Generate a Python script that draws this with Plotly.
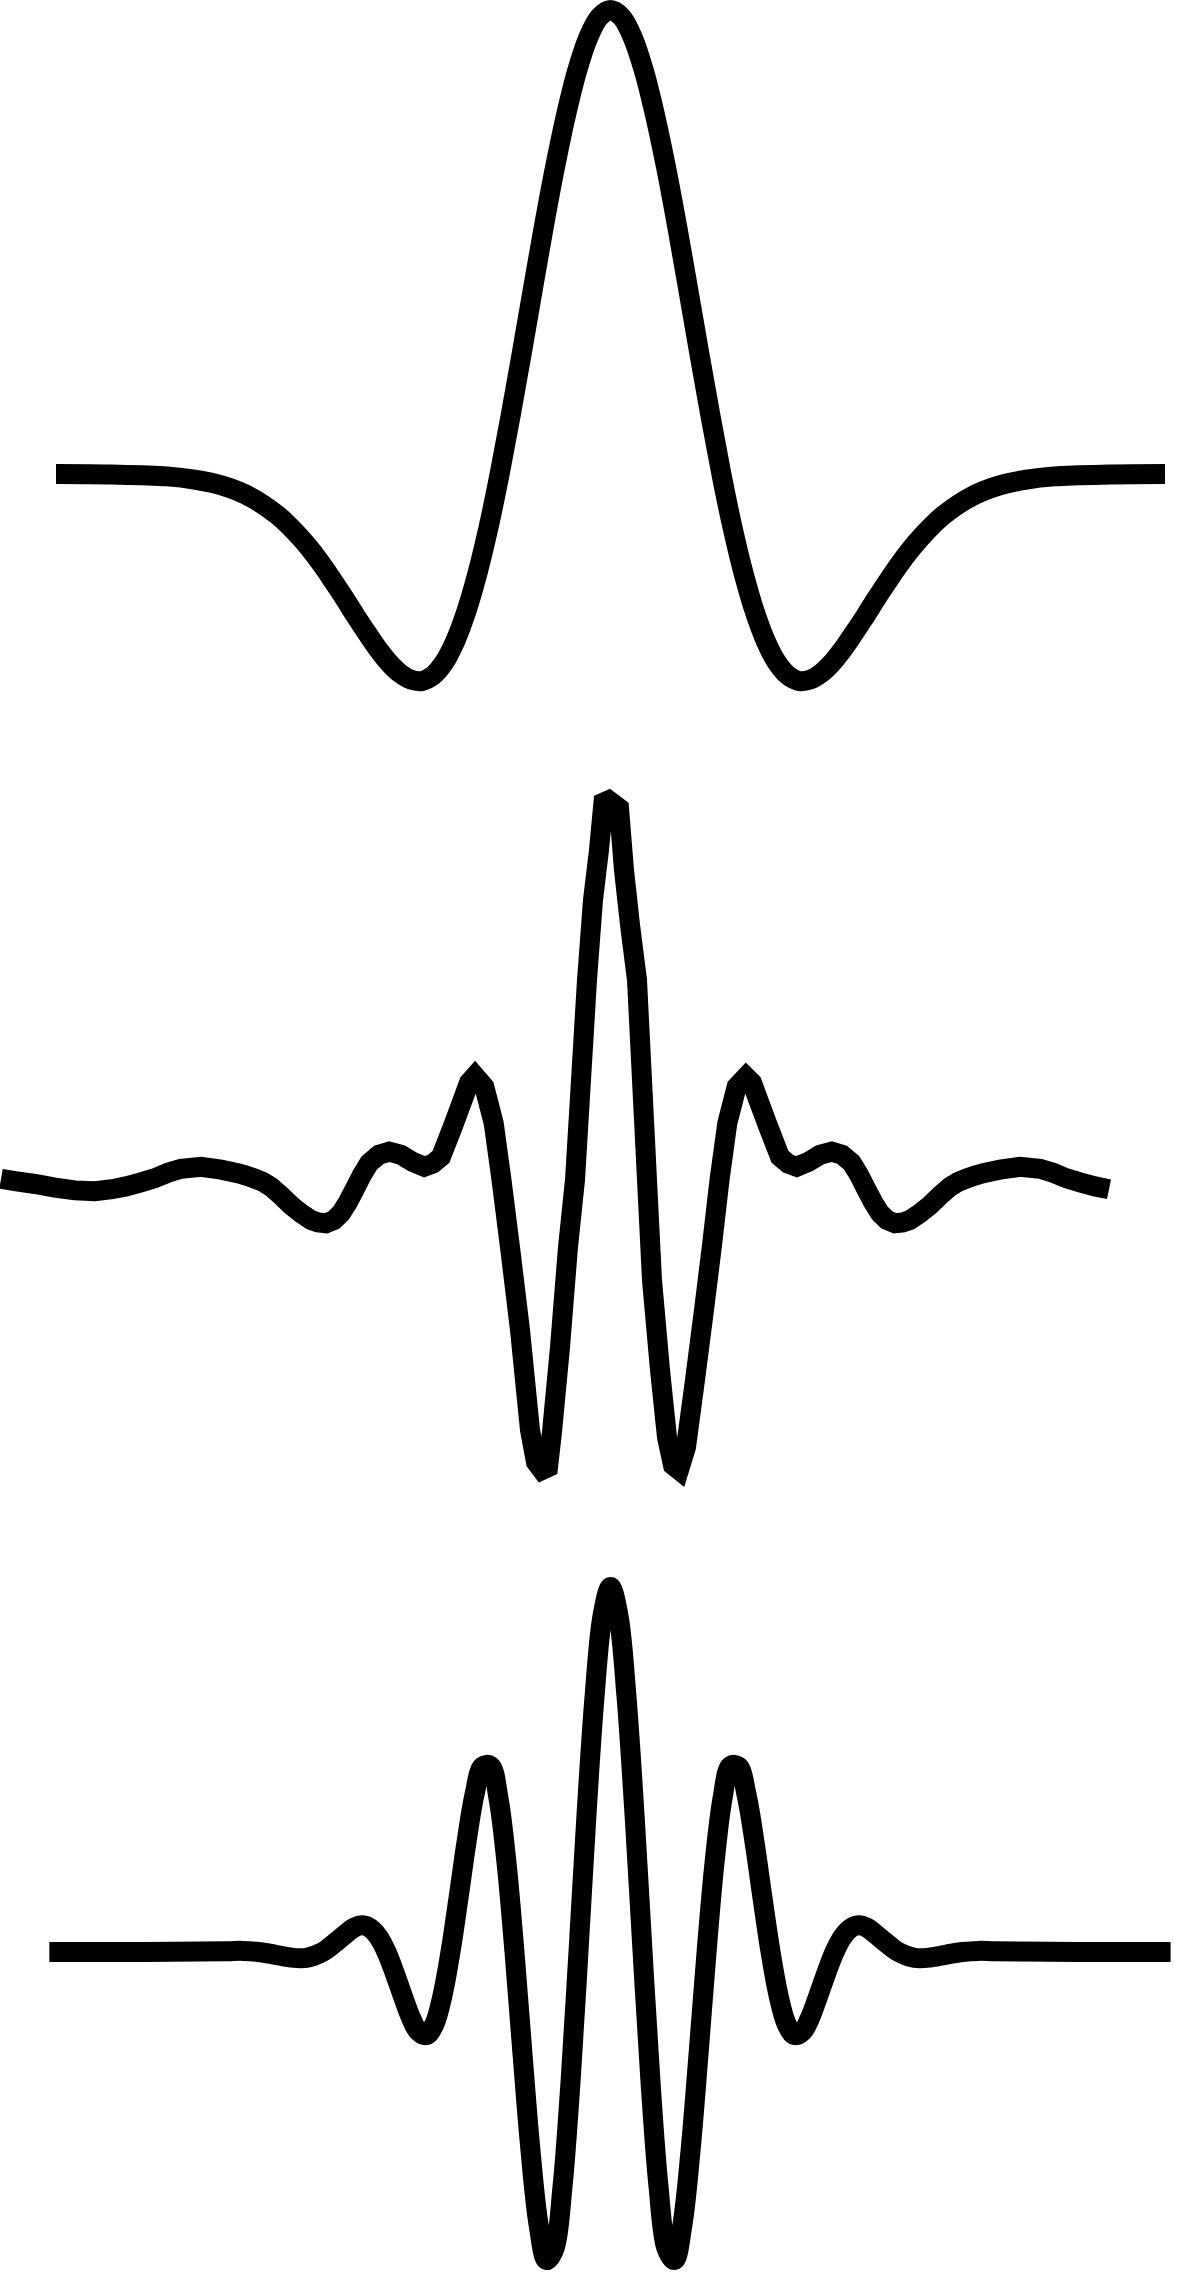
import plotly.graph_objects as go

# ---------------- Panel 1 : "Mexican hat" wavelet ----------------
hat_t = [-5.0, -4.5, -4.0, -3.75, -3.5, -3.25, -3.0, -2.9, -2.8, -2.7, -2.6, -2.5,
         -2.4, -2.3, -2.2, -2.1, -2.0, -1.9, -1.8, -1.7, -1.6, -1.5, -1.4, -1.3,
         -1.2, -1.1, -1.0, -0.9, -0.8, -0.7, -0.6, -0.5, -0.4, -0.3, -0.2, -0.1,
         0.0, 0.1, 0.2, 0.3, 0.4, 0.5, 0.6, 0.7, 0.8, 0.9, 1.0, 1.1, 1.2, 1.3,
         1.4, 1.5, 1.6, 1.7, 1.8, 1.9, 2.0, 2.1, 2.2, 2.3, 2.4, 2.5, 2.6, 2.7,
         2.8, 2.9, 3.0, 3.25, 3.5, 3.75, 4.0, 4.5, 5.0]
hat_v = [0.0, -0.001, -0.005, -0.012, -0.025, -0.049, -0.089, -0.111, -0.136,
         -0.164, -0.196, -0.231, -0.267, -0.305, -0.341, -0.376, -0.406, -0.429,
         -0.443, -0.446, -0.434, -0.406, -0.360, -0.296, -0.214, -0.115, 0.0,
         0.127, 0.261, 0.399, 0.535, 0.662, 0.775, 0.870, 0.941, 0.985, 1.0,
         0.985, 0.941, 0.870, 0.775, 0.662, 0.535, 0.399, 0.261, 0.127, 0.0,
         -0.115, -0.214, -0.296, -0.360, -0.406, -0.434, -0.446, -0.443, -0.429,
         -0.406, -0.376, -0.341, -0.305, -0.267, -0.231, -0.196, -0.164, -0.136,
         -0.111, -0.089, -0.049, -0.025, -0.012, -0.005, -0.001, 0.0]

# ---------------- Panel 2 : sampled (discrete) wavelet ----------------
disc_t = [-6.095, -5.955, -5.755, -5.555, -5.355, -5.155, -4.985, -4.845, -4.695,
          -4.562, -4.425, -4.295, -4.095, -3.895, -3.728, -3.645, -3.562, -3.475,
          -3.395, -3.295, -3.195, -3.095, -2.995, -2.925, -2.845, -2.765, -2.695,
          -2.625, -2.562, -2.485, -2.412, -2.315, -2.212, -2.095, -1.975, -1.862,
          -1.775, -1.695, -1.578, -1.478, -1.415, -1.355, -1.262, -1.168, -1.090,
          -1.005, -0.905, -0.805, -0.745, -0.685, -0.625, -0.585, -0.505, -0.425,
          -0.355, -0.295, -0.235, -0.175, -0.115, -0.065, 0.085, 0.135, 0.195,
          0.265, 0.315, 0.365, 0.415, 0.495, 0.565, 0.625, 0.685, 0.755, 0.845,
          0.935, 1.015, 1.090, 1.168, 1.262, 1.355, 1.415, 1.478, 1.578, 1.695,
          1.775, 1.862, 1.975, 2.095, 2.212, 2.315, 2.412, 2.485, 2.562, 2.625,
          2.695, 2.765, 2.845, 2.925, 2.995, 3.095, 3.195, 3.295, 3.395, 3.475,
          3.562, 3.645, 3.728, 3.895, 4.095, 4.295, 4.425, 4.562, 4.695, 4.845,
          4.985]
disc_v = [0.003, -0.003, -0.010, -0.019, -0.026, -0.028, -0.023, -0.016, -0.006,
          0.004, 0.018, 0.028, 0.033, 0.026, 0.017, 0.011, 0.004, -0.005,
          -0.017, -0.039, -0.063, -0.083, -0.100, -0.106, -0.108, -0.100, -0.083,
          -0.055, -0.025, 0.013, 0.043, 0.063, 0.071, 0.063, 0.045, 0.033,
          0.041, 0.058, 0.133, 0.200, 0.243, 0.260, 0.233, 0.142, 0.000,
          -0.168, -0.375, -0.625, -0.705, -0.725, -0.718, -0.630, -0.418, -0.168,
          0.000, 0.250, 0.500, 0.700, 0.825, 0.958, 0.930, 0.775, 0.638,
          0.500, 0.250, 0.000, -0.250, -0.475, -0.643, -0.713, -0.725, -0.668, -0.500,
          -0.325, -0.163, 0.000, 0.142, 0.233, 0.258, 0.243, 0.200, 0.133, 0.058,
          0.041, 0.033, 0.045, 0.063, 0.071, 0.063, 0.043, 0.013, -0.025, -0.055,
          -0.083, -0.100, -0.108, -0.106, -0.100, -0.083, -0.063, -0.039, -0.017, -0.005,
          0.004, 0.011, 0.017, 0.026, 0.033, 0.028, 0.018, 0.004, -0.006, -0.016,
          -0.023]

# ---------------- Panel 3 : Morlet-like wavelet ----------------
mor_t = [-5.06, -4.2, -3.463, -3.319, -3.175, -3.030, -2.886, -2.742, -2.597,
         -2.453, -2.309, -2.237, -2.165, -2.092, -2.020, -1.948, -1.876, -1.804,
         -1.732, -1.660, -1.587, -1.515, -1.443, -1.371, -1.299, -1.227, -1.154,
         -1.082, -1.010, -0.938, -0.866, -0.794, -0.722, -0.649, -0.577, -0.505,
         -0.433, -0.361, -0.289, -0.217, -0.144, -0.072, 0.0, 0.072, 0.144, 0.217,
         0.289, 0.361, 0.433, 0.505, 0.577, 0.649, 0.722, 0.794, 0.866, 0.938,
         1.010, 1.082, 1.154, 1.227, 1.299, 1.371, 1.443, 1.515, 1.587, 1.660,
         1.732, 1.804, 1.876, 1.948, 2.020, 2.092, 2.165, 2.237, 2.309, 2.453,
         2.597, 2.742, 2.886, 3.030, 3.175, 3.319, 3.463, 4.2, 5.05]
mor_v = [0.0, 0.0, 0.002, 0.003, 0.0, -0.007, -0.015, -0.016, 0.0,
         0.033, 0.067, 0.073, 0.065, 0.041, 0.0, -0.056, -0.118, -0.177,
         -0.218, -0.228, -0.197, -0.119, 0.0, 0.147, 0.300, 0.430, 0.508,
         0.510, 0.421, 0.245, 0.0, -0.278, -0.543, -0.746, -0.844, -0.812,
         -0.643, -0.358, 0.0, 0.374, 0.700, 0.921, 1.0, 0.921, 0.700, 0.374,
         0.0, -0.358, -0.643, -0.812, -0.844, -0.746, -0.543, -0.278, 0.0, 0.245,
         0.421, 0.510, 0.508, 0.430, 0.300, 0.147, 0.0, -0.119, -0.197, -0.228,
         -0.218, -0.177, -0.118, -0.056, 0.0, 0.041, 0.065, 0.073, 0.067, 0.033,
         0.0, -0.016, -0.015, -0.007, 0.0, 0.003, 0.002, 0.0, 0.0]

INK = "#000000"
LW = 20

fig = go.Figure()
fig.add_trace(go.Scatter(x=hat_t, y=hat_v, mode="lines", xaxis="x", yaxis="y",
                         line=dict(color=INK, width=LW, shape="spline",
                                   smoothing=1.0, simplify=False),
                         hoverinfo="skip"))
fig.add_trace(go.Scatter(x=disc_t, y=disc_v, mode="lines", xaxis="x2", yaxis="y2",
                         line=dict(color=INK, width=LW, shape="linear",
                                   simplify=False),
                         hoverinfo="skip"))
fig.add_trace(go.Scatter(x=mor_t, y=mor_v, mode="lines", xaxis="x", yaxis="y3",
                         line=dict(color=INK, width=LW, shape="spline",
                                   smoothing=1.0, simplify=False),
                         hoverinfo="skip"))

hidden = dict(visible=False, showgrid=False, zeroline=False, fixedrange=True)
fig.update_layout(
    width=1182, height=2275,
    margin=dict(l=0, r=0, t=0, b=0, pad=0),
    paper_bgcolor="white", plot_bgcolor="white",
    showlegend=False,
    xaxis=dict(hidden, range=[-5.505, 5.153], domain=[0, 1], anchor="y"),
    xaxis2=dict(hidden, range=[-6.105, 5.715], overlaying="x", anchor="y2"),
    yaxis=dict(hidden, range=[-3.881, 1.0216], domain=[0, 1], anchor="x"),
    yaxis2=dict(hidden, range=[-2.7375, 2.95], overlaying="y", anchor="x2"),
    yaxis3=dict(hidden, range=[-0.885, 5.348], overlaying="y", anchor="x"),
)

fig.write_html("out.html")
